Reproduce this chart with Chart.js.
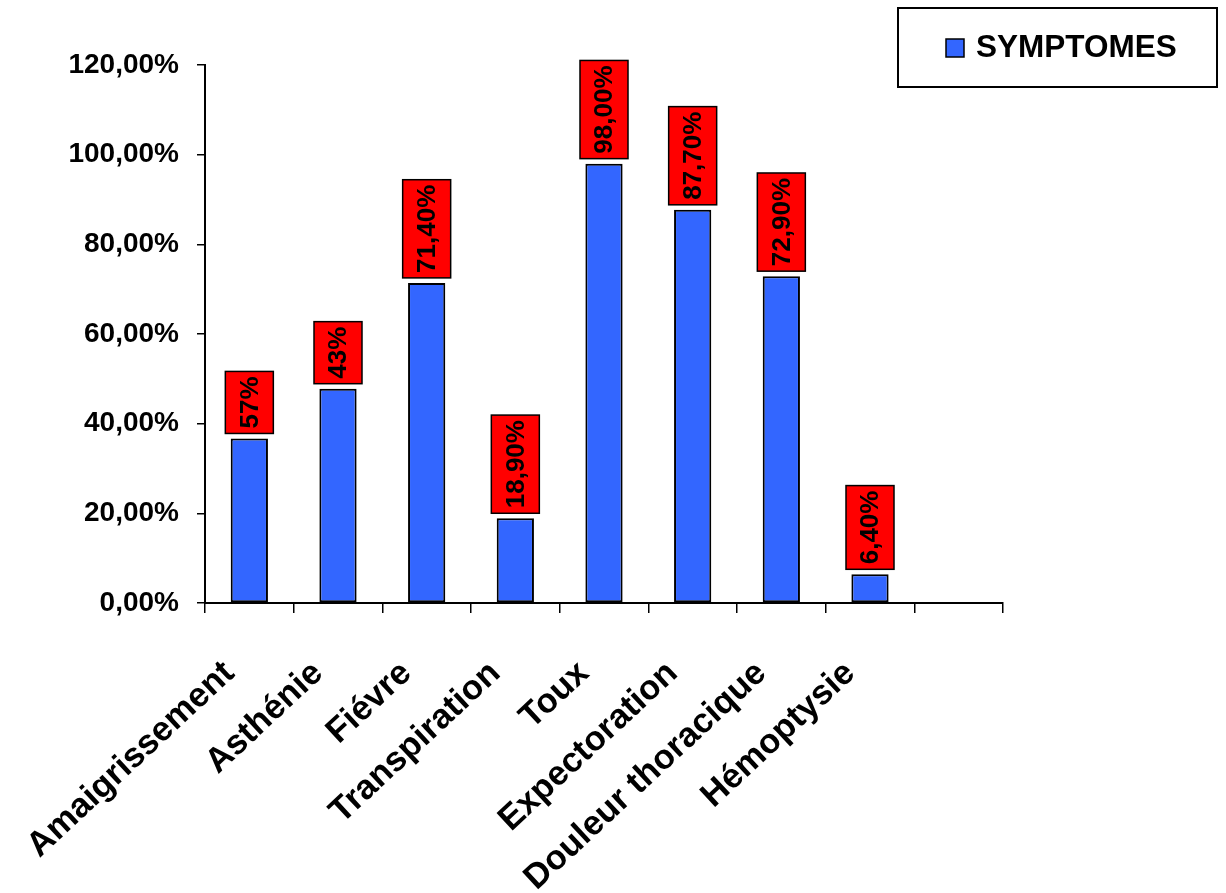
<!DOCTYPE html>
<html>
<head>
<meta charset="utf-8">
<script src="https://cdn.jsdelivr.net/npm/chart.js@4.4.1/dist/chart.umd.min.js"></script>
<style>
html,body{margin:0;padding:0;background:#fff;}
#wrap{position:relative;width:1226px;height:893px;}
</style>
</head>
<body>
<div id="wrap"><canvas id="c" width="1226" height="893"></canvas></div>
<script>
const categories = ['Amaigrissement','Asthénie','Fiévre','Transpiration','Toux','Expectoration','Douleur thoracique','Hémoptysie',''];
const values = [36.7, 47.8, 71.4, 18.9, 98.0, 87.7, 72.9, 6.4, null];
const valueLabels = ['57%','43%','71,40%','18,90%','98,00%','87,70%','72,90%','6,40%',''];
const seriesName = 'SYMPTOMES';
const yTicks = [0, 20, 40, 60, 80, 100, 120];

const FONT = 'Arial, "Liberation Sans", sans-serif';
const BLUE = '#3366FF';

const dataLabelPlugin = {
  id: 'boxLabels',
  afterDatasetsDraw(chart) {
    const ctx = chart.ctx;
    const meta = chart.getDatasetMeta(0);
    ctx.save();
    ctx.font = 'bold 26px ' + FONT;
    meta.data.forEach((bar, i) => {
      const v = values[i];
      const txt = valueLabels[i];
      if (v === null || !txt) return;
      const p = bar.getProps(['x', 'y'], true);
      const tw = ctx.measureText(txt).width;
      const bw = 48, bh = tw + 10;
      const bottom = p.y - 5;
      const left = p.x - bw / 2;
      ctx.fillStyle = '#FF0000';
      ctx.fillRect(left, bottom - bh, bw, bh);
      ctx.lineWidth = 1.5;
      ctx.strokeStyle = '#000';
      ctx.strokeRect(left, bottom - bh, bw, bh);
      ctx.save();
      ctx.translate(p.x + 1, bottom - bh / 2);
      ctx.rotate(-Math.PI / 2);
      ctx.fillStyle = '#000';
      ctx.textAlign = 'center';
      ctx.textBaseline = 'middle';
      ctx.fillText(txt, 0, 0);
      ctx.restore();
    });
    ctx.restore();
  }
};

const legendPlugin = {
  id: 'boxLegend',
  afterDraw(chart) {
    const ctx = chart.ctx;
    ctx.save();
    ctx.lineWidth = 2;
    ctx.strokeStyle = '#000';
    ctx.fillStyle = '#fff';
    ctx.fillRect(898, 8, 319, 79);
    ctx.strokeRect(898, 8, 319, 79);
    ctx.fillStyle = BLUE;
    ctx.fillRect(946, 39, 18, 18);
    ctx.lineWidth = 1.5;
    ctx.strokeRect(946, 39, 18, 18);
    ctx.fillStyle = '#000';
    ctx.font = 'bold 31.5px ' + FONT;
    ctx.textBaseline = 'middle';
    ctx.textAlign = 'left';
    ctx.fillText(chart.data.datasets[0].label, 976, 48);
    ctx.restore();
  }
};

new Chart(document.getElementById('c'), {
  type: 'bar',
  data: {
    labels: categories,
    datasets: [{
      label: seriesName,
      data: values,
      backgroundColor: BLUE,
      borderColor: '#000',
      borderWidth: 2,
      borderSkipped: false,
      categoryPercentage: 1,
      barPercentage: 0.42
    }]
  },
  options: {
    responsive: false,
    animation: false,
    devicePixelRatio: 1,
    layout: { padding: { left: 0, top: 65, right: 223, bottom: 0 } },
    plugins: { legend: { display: false }, tooltip: { enabled: false } },
    scales: {
      x: {
        grid: { offset: true, drawOnChartArea: false, drawTicks: true, tickLength: 10, color: '#000', lineWidth: 1.5 },
        border: { display: true, color: '#000', width: 2 },
        ticks: {
          autoSkip: false, minRotation: 43, maxRotation: 43,
          color: '#000', font: { family: FONT, size: 34.5, weight: 'bold' },
          padding: 40, labelOffset: -20
        },
        afterFit(scale) { scale.height = 290; scale.paddingLeft = 0; scale.paddingRight = 0; }
      },
      y: {
        min: 0, max: 120,
        afterBuildTicks(scale) { scale.ticks = yTicks.map(v => ({ value: v })); },
        grid: { drawOnChartArea: false, drawTicks: true, tickLength: 8, color: '#000', lineWidth: 1.5 },
        border: { display: true, color: '#000', width: 2 },
        ticks: {
          color: '#000', padding: 18,
          font: { family: FONT, size: 28, weight: 'bold' },
          callback: v => v.toFixed(2).replace('.', ',') + '%'
        },
        afterFit(scale) { scale.width = 205; scale.paddingTop = 0; scale.paddingBottom = 0; }
      }
    }
  },
  plugins: [dataLabelPlugin, legendPlugin]
});
</script>
</body>
</html>
